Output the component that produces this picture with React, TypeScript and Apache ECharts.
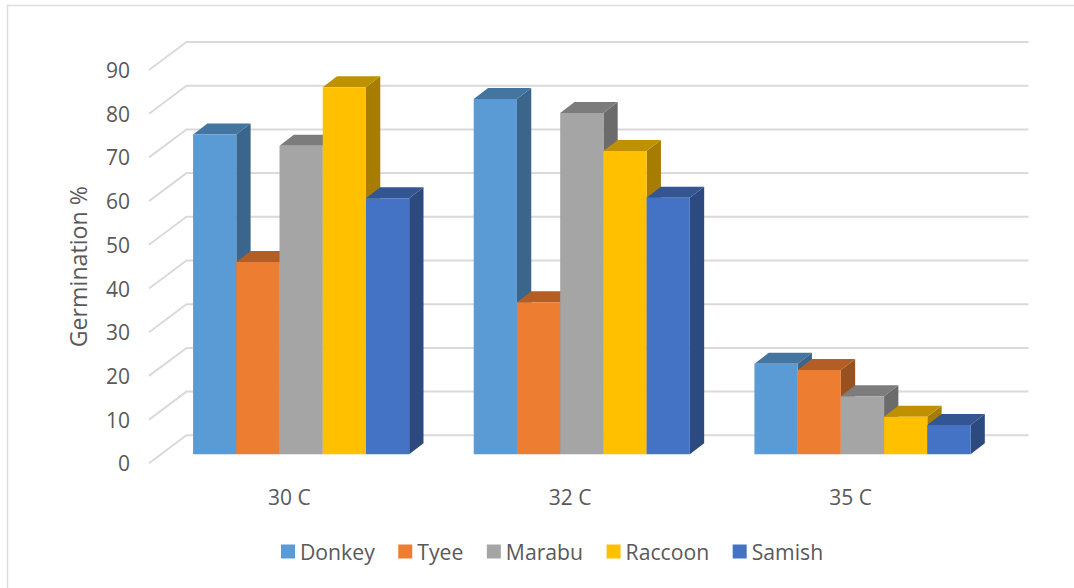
import React, { useEffect, useRef } from "react";
import * as echarts from "echarts";

const categories = ["30 C", "32 C", "35 C"];
const yTicks = [0, 10, 20, 30, 40, 50, 60, 70, 80, 90];
const donkey = [73.2, 81.3, 20.7];
const tyee = [44.0, 34.8, 19.3];
const marabu = [70.6, 78.1, 13.3];
const raccoon = [84.0, 69.4, 8.6];
const samish = [58.6, 58.7, 6.7];

const seriesNames = ["Donkey", "Tyee", "Marabu", "Raccoon", "Samish"];
const seriesValues = [donkey, tyee, marabu, raccoon, samish];
const seriesColors = ["#5B9BD5", "#ED7D31", "#A5A5A5", "#FFC000", "#4472C4"];

const WALL_DX = 37.5;
const WALL_DY = 28;
const BAR_OFFSET_X = 11.8;
const BAR_OFFSET_Y = 9;
const BAR_DEPTH_X = 14.3;
const BAR_DEPTH_Y = 11;
const BAR_WIDTH_RATIO = 0.154;
const TEXT = "#595959";
const FONT = "'Open Sans', sans-serif";

function shade(hex: string, k: number) {
  const n = parseInt(hex.slice(1), 16);
  const c = [(n >> 16) & 255, (n >> 8) & 255, n & 255].map((v) => Math.round(v * k));
  return `rgb(${c[0]},${c[1]},${c[2]})`;
}

const wallLine = (params: any, api: any) => {
  const sys = params.coordSys;
  const y = api.coord([0, api.value(1)])[1];
  return {
    type: "polyline",
    shape: {
      points: [
        [sys.x, y],
        [sys.x + WALL_DX, y - WALL_DY],
        [sys.x + sys.width + WALL_DX, y - WALL_DY],
      ],
    },
    style: { fill: "none", stroke: "#DADADA", lineWidth: 2 },
  };
};

const bar3d = (seriesIndex: number) => (_params: any, api: any) => {
  const color = seriesColors[seriesIndex];
  const band = api.size([1, 0])[0];
  const w = band * BAR_WIDTH_RATIO;
  const base = api.coord([api.value(0), 0]);
  const top = api.coord([api.value(0), api.value(1)]);
  const x0 = base[0] + BAR_OFFSET_X - (w * seriesNames.length) / 2 + w * seriesIndex;
  const x1 = x0 + w;
  const y0 = base[1] - BAR_OFFSET_Y;
  const y1 = top[1] - BAR_OFFSET_Y;
  const poly = (points: number[][], fill: string) => ({
    type: "polygon",
    shape: { points },
    style: { fill },
  });
  return {
    type: "group",
    children: [
      poly(
        [
          [x1, y1],
          [x1 + BAR_DEPTH_X, y1 - BAR_DEPTH_Y],
          [x1 + BAR_DEPTH_X, y0 - BAR_DEPTH_Y],
          [x1, y0],
        ],
        shade(color, 0.65)
      ),
      poly(
        [
          [x0, y1],
          [x0 + BAR_DEPTH_X, y1 - BAR_DEPTH_Y],
          [x1 + BAR_DEPTH_X, y1 - BAR_DEPTH_Y],
          [x1, y1],
        ],
        shade(color, 0.75)
      ),
      poly(
        [
          [x0, y0],
          [x1, y0],
          [x1, y1],
          [x0, y1],
        ],
        color
      ),
    ],
  };
};

export default function App() {
  const ref = useRef<HTMLDivElement>(null);
  useEffect(() => {
    if (!ref.current) return;
    const chart = echarts.init(ref.current, undefined, { renderer: "svg" });
    chart.setOption({
      animation: false,
      backgroundColor: "#FFFFFF",
      textStyle: { fontFamily: FONT },
      grid: { left: 149, right: 83, top: 70, height: 393.3, containLabel: false },
      graphic: [
        {
          type: "polyline",
          silent: true,
          shape: { points: [[7.5, 588], [7.5, 5.5], [1074, 5.5]] },
          style: { fill: "none", stroke: "#DDDDDD", lineWidth: 1.5 },
        },
      ],
      legend: {
        data: seriesNames,
        left: 276,
        top: 536,
        icon: "rect",
        itemWidth: 14,
        itemHeight: 14,
        itemGap: 23.5,
        textStyle: { color: TEXT, fontFamily: FONT, fontSize: 21.2 },
        selectedMode: false,
      },
      xAxis: {
        type: "category",
        data: categories,
        boundaryGap: true,
        axisLine: { show: false },
        axisTick: { show: false },
        splitLine: { show: false },
        axisLabel: { color: TEXT, fontFamily: FONT, fontSize: 21, margin: 23 },
      },
      yAxis: {
        type: "value",
        min: 0,
        max: 90,
        interval: 10,
        name: "Germination %",
        nameLocation: "middle",
        nameRotate: 90,
        nameGap: 59.5,
        nameTextStyle: { color: TEXT, fontFamily: FONT, fontSize: 23.2 },
        axisLine: { show: false },
        axisTick: { show: false },
        splitLine: { show: false },
        axisLabel: {
          color: TEXT,
          fontFamily: FONT,
          fontSize: 21,
          margin: 19,
          padding: [0, 0, 4, 0],
          formatter: (v: number) => String(v),
        },
      },
      series: [
        {
          type: "custom",
          name: "walls",
          silent: true,
          z: 1,
          renderItem: wallLine,
          encode: { x: 0, y: 1 },
          data: yTicks.map((t) => [0, t]),
        },
        ...seriesNames.map((name, i) => ({
          type: "custom",
          name,
          silent: true,
          z: 2,
          renderItem: bar3d(i),
          encode: { x: 0, y: 1 },
          itemStyle: { color: seriesColors[i] },
          data: seriesValues[i].map((v, c) => [c, v]),
        })),
      ],
    });
    return () => chart.dispose();
  }, []);
  return (
    <div
      ref={ref}
      style={{ position: "absolute", left: 0, top: 0, width: 1074, height: 588 }}
    />
  );
}
